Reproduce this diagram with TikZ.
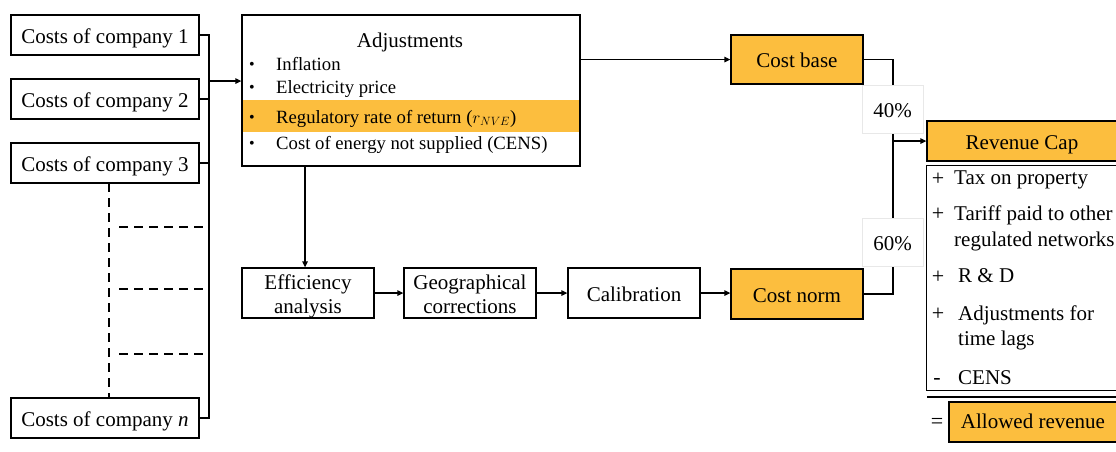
\documentclass[tikz,border=0pt]{standalone}
\usepackage{fontspec}
\setmainfont{Liberation Serif}
\usetikzlibrary{arrows.meta,backgrounds}
\definecolor{myorange}{RGB}{252,190,62}
\definecolor{labelgray}{RGB}{232,232,232}
\begin{document}
\begin{tikzpicture}[x=1pt,y=-1pt,
  boxbase/.style={draw, line width=1.3pt, inner sep=0pt, align=center,
    font=\fontsize{21}{24}\selectfont},
  box/.style={boxbase, text height=16.5pt, text depth=0pt},
  box2/.style={boxbase, text height=40.5pt, text depth=0pt},
  hl/.style={fill=myorange},
  txt/.style={inner sep=0pt, text height=16.5pt, text depth=0pt,
    font=\fontsize{21}{24}\selectfont},
  itm/.style={inner sep=0pt, anchor=west, text height=15pt, text depth=0pt,
    font=\fontsize{18.7}{21}\selectfont},
  sym/.style={inner sep=0pt, font=\fontsize{22}{24}\selectfont},
  bul/.style={inner sep=0pt, font=\fontsize{16}{18}\selectfont},
  lbl/.style={draw=labelgray, fill=white, inner sep=0pt, minimum width=61pt,
    minimum height=48pt, text height=16.5pt, text depth=0pt,
    font=\fontsize{21}{24}\selectfont},
  conn/.style={line width=1.3pt},
  arr/.style={line width=1.3pt, -{Triangle[length=6pt,width=5.5pt]}},
  dsh/.style={line width=2.8pt, dash pattern=on 9pt off 6pt}]
\useasboundingbox (0,0) rectangle (1116,451);

% companies
\node[box, minimum width=188pt, minimum height=40pt] (c1) at (105,35) {Costs of company 1};
\node[box, minimum width=188pt, minimum height=40pt] (c2) at (105,99) {Costs of company 2};
\node[box, minimum width=188pt, minimum height=40pt] (c3) at (105,163) {Costs of company 3};
\node[box, minimum width=188pt, minimum height=40pt] (cn) at (105,418) {Costs of company \textit{n}};

% adjustments
\node[box, minimum width=338pt, minimum height=151pt] (adj) at (411,90.5) {};
\begin{scope}[on background layer]
  \fill[myorange] (adj.west |- 0,100) rectangle (adj.east |- 0,132);
\end{scope}
\node[txt] (adjt) at (410,39.5) {Adjustments};
\node[bul] (b1) at (252,66) {\textbullet};
\node[bul] (b2) at (252,89) {\textbullet};
\node[bul] (b3) at (252,119) {\textbullet};
\node[bul] (b4) at (252,145) {\textbullet};
\node[itm] (i1) at (276,62.5) {Inflation};
\node[itm] (i2) at (276,85.5) {Electricity price};
\node[itm] (i3) at (276,115.5) {Regulatory rate of return ($r_{NVE}$)};
\node[itm] (i4) at (276,141.5) {Cost of energy not supplied (CENS)};

% bottom chain
\node[box2, minimum width=132pt, minimum height=50pt] (eff) at (308,293) {Efficiency\\analysis};
\node[box2, minimum width=132pt, minimum height=50pt] (geo) at (470,293) {Geographical\\corrections};
\node[box, minimum width=132pt, minimum height=50pt] (cal) at (634,293) {Calibration};
\node[box, hl, minimum width=132pt, minimum height=50pt] (cn2) at (797,294) {Cost norm};
\node[box, hl, minimum width=132pt, minimum height=49pt] (cb) at (797,59.5) {Cost base};

% revenue cap
\node[box, hl, minimum width=192pt, minimum height=40pt] (rc) at (1023,141) {};
\node[txt] (rct) at (1022,141) {Revenue Cap};
\node[inner sep=0pt, minimum width=192pt, minimum height=224pt] (items) at (1023,278) {};
\draw[conn] (items.north east) -- (items.north west) -- (items.south west) -- (items.south east);
\node[sym] (p1) at (938,179) {+};
\node[sym] (p2) at (938,214) {+};
\node[sym] (p3) at (938,277) {+};
\node[sym] (p4) at (938,314) {+};
\node[sym] (p5) at (937,381) {-};
\node[txt, anchor=west] (t1) at (954,175.75) {Tax on property};
\node[txt, anchor=west] (t2) at (954,211.75) {Tariff paid to other};
\node[txt, anchor=west] (t3) at (954,237.75) {regulated networks};
\node[txt, anchor=west] (t4) at (958,273.75) {R \& D};
\node[txt, anchor=west] (t5) at (958,311.75) {Adjustments for};
\node[txt, anchor=west] (t6) at (958,336.75) {time lags};
\node[txt, anchor=west] (t7) at (958,376.5) {CENS};
\coordinate (dl1) at (927,397);
\coordinate (dl2) at (1118,397);
\draw[line width=2pt] (dl1) -- (dl2);
\node[sym] (eq) at (937,423) {=};
\node[box, hl, minimum width=170pt, minimum height=40pt] (ar) at (1034,422) {};
\node[txt] (art) at (1033,420) {Allowed revenue};

% company bus
\coordinate (bt) at (209,35);
\coordinate (bb) at (209,418);
\coordinate (ba) at (209,81);
\draw[conn] (c1.east) -- (bt) -- (bb) -- (cn.east);
\draw[conn] (c2.east) -- (c2.east -| bt);
\draw[conn] (c3.east) -- (c3.east -| bt);
\draw[arr] (ba) -- (ba -| adj.west);

% dashed
\coordinate (dv1) at (109,183);
\coordinate (dv2) at (109,398);
\draw[dsh] (dv1) -- (dv2);
\coordinate (dh1) at (119,227);
\coordinate (dh2) at (119,289);
\coordinate (dh3) at (119,354);
\draw[dsh] (dh1) -- (dh1 -| bt);
\draw[dsh] (dh2) -- (dh2 -| bt);
\draw[dsh] (dh3) -- (dh3 -| bt);

% flow arrows
\draw[arr] (adj.east |- cb.west) -- (cb.west);
\coordinate (va) at (305,166);
\draw[arr] (va) -- (va |- eff.north);
\draw[arr] (eff.east) -- (geo.west);
\draw[arr] (geo.east) -- (cal.west);
\draw[arr] (cal.east) -- (cal.east -| cn2.west);

% to revenue cap
\coordinate (rj) at (893,141);
\draw[conn] (cb.east) -| (rj);
\draw[conn] (cn2.east) -| (rj);
\draw[arr] (rj) -- (rj -| rc.west);
\node[lbl] (l40) at (892.5,109) {40\%};
\node[lbl] (l60) at (892.5,242.5) {60\%};
\end{tikzpicture}
\end{document}
